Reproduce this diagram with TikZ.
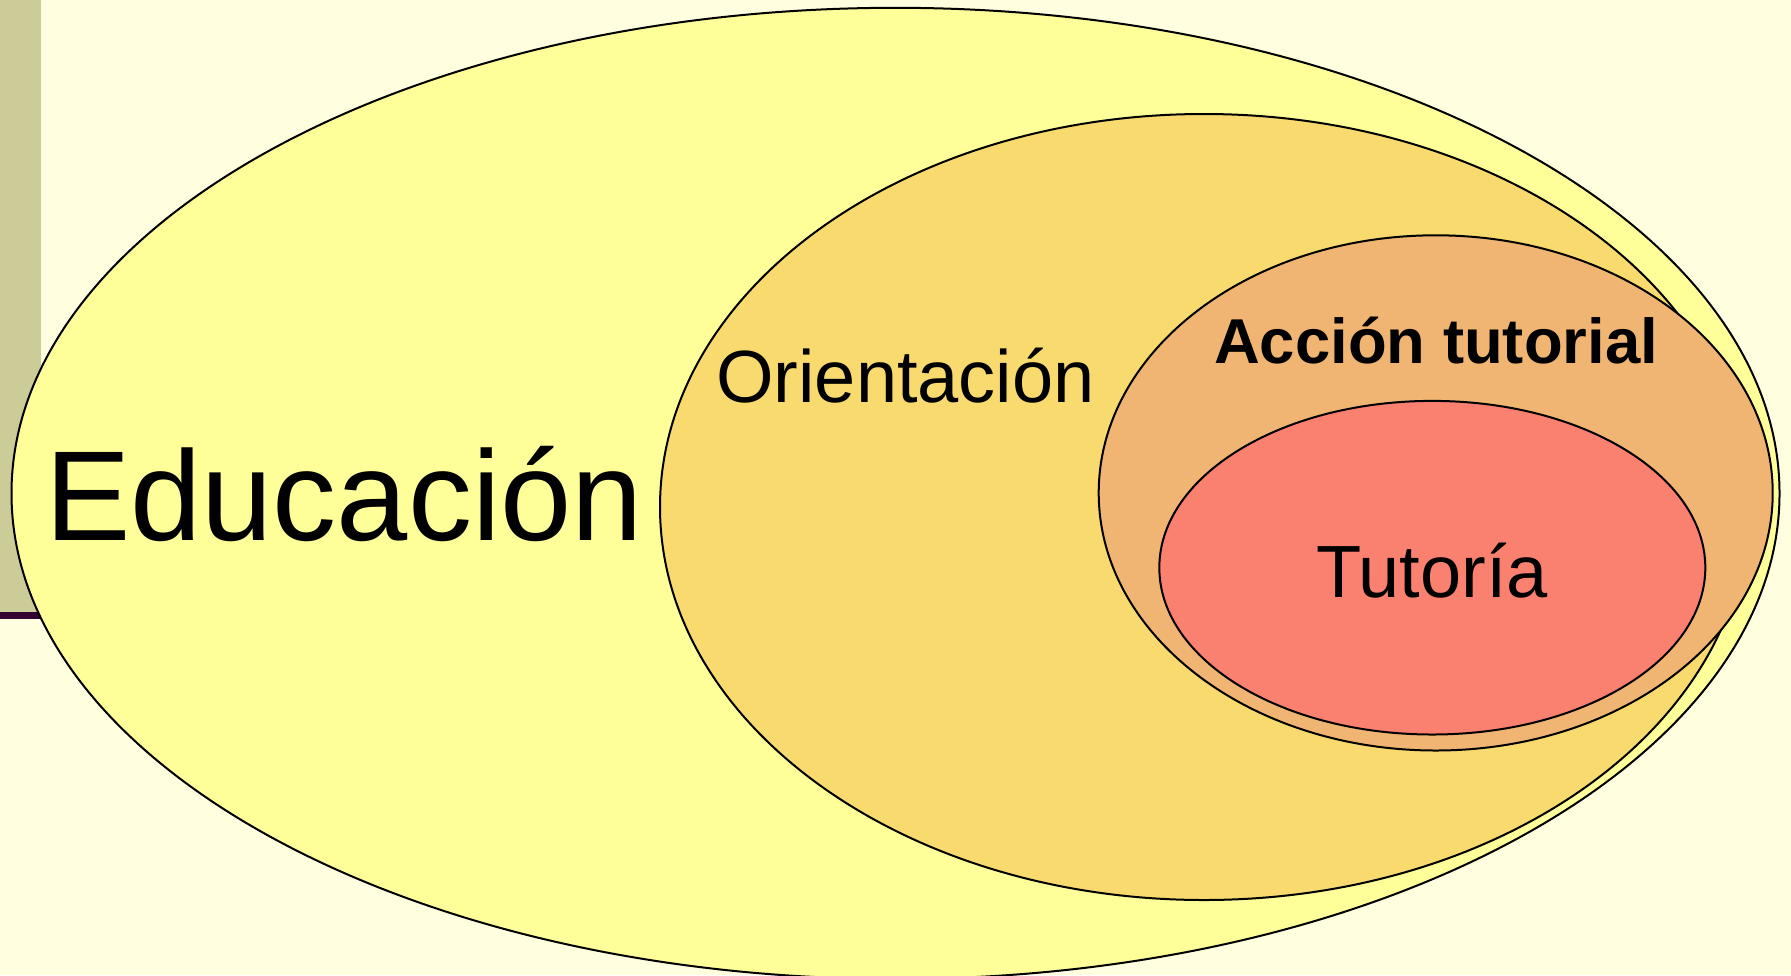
\documentclass[tikz,border=0pt]{standalone}
\usepackage{fontspec}
\setmainfont{Liberation Sans}
\definecolor{bgc}{HTML}{FFFFDF}
\definecolor{barc}{HTML}{CCCC99}
\definecolor{linec}{HTML}{330033}
\definecolor{educ}{HTML}{FFFF99}
\definecolor{orc}{HTML}{F8DA6F}
\definecolor{acc}{HTML}{F0B573}
\definecolor{tuc}{HTML}{FA8070}
\begin{document}
\begin{tikzpicture}[x=0.5pt,y=-0.5pt,
  ell/.style={draw=black,line width=1pt},
  lbl/.style={inner sep=0pt,anchor=base,text=black}]
\useasboundingbox (0,0) rectangle (1791,975);
\fill[bgc] (0,0) rectangle (1791,975);
\fill[barc] (0,0) rectangle (41,613);
\fill[linec] (0,612) rectangle (60,619);
% ellipses
\draw[ell,fill=educ] (895.5,493.4) ellipse [x radius=442pt, y radius=242.8pt];
\draw[ell,fill=orc] (1204,507) ellipse [x radius=272pt, y radius=196.5pt];
\draw[ell,fill=acc] (1435.7,492.9) ellipse [x radius=168.5pt, y radius=128.8pt];
\draw[ell,fill=tuc] (1432.3,567.7) ellipse [x radius=136.5pt, y radius=83.4pt];
% labels
\node[lbl,font=\fontsize{64pt}{70pt}\selectfont] (tedu) at (344,540) {Educación};
\node[lbl,font=\fontsize{37pt}{42pt}\selectfont] (tor) at (905.5,402) {Orientación};
\node[lbl,font=\fontsize{31.7pt}{36pt}\selectfont\bfseries] (tac) at (1436,363) {Acción tutorial};
\node[lbl,font=\fontsize{37pt}{42pt}\selectfont] (ttu) at (1432,597) {Tutoría};
\end{tikzpicture}
\end{document}
